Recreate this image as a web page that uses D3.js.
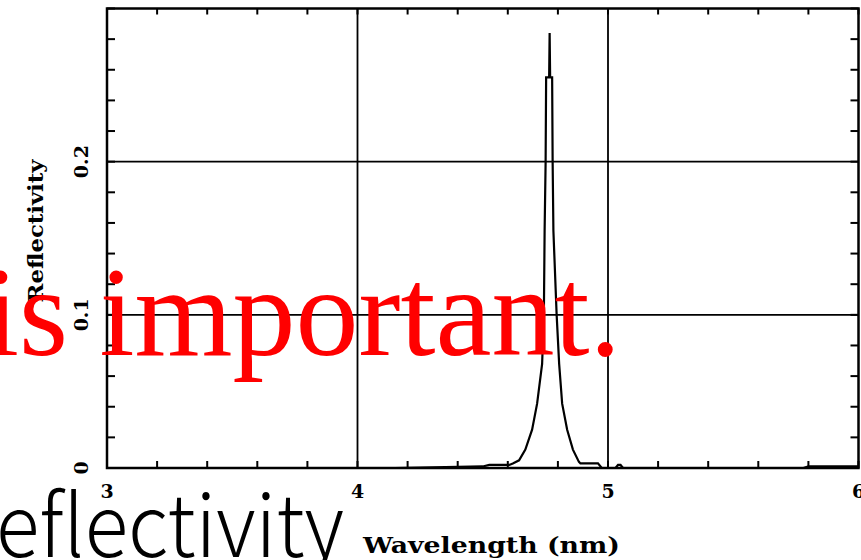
<!DOCTYPE html>
<html>
<head>
<meta charset="utf-8">
<script src="https://cdn.jsdelivr.net/npm/d3@7"></script>
<style>
  body { margin: 0; background: #fff; }
  svg { display: block; }
</style>
</head>
<body>
<div id="chart"></div>
<script>
// data
const wavelength = [3.0, 4.15, 4.5, 4.526, 4.606, 4.62, 4.645, 4.67, 4.697, 4.717, 4.737, 4.744, 4.747, 4.751, 4.753,
  4.765, 4.767, 4.769, 4.777, 4.779, 4.782, 4.795, 4.805, 4.817, 4.837, 4.86, 4.884, 4.89, 4.96, 4.975,
  5.03, 5.04, 5.05, 5.06, 5.78, 5.8, 5.95, 6.0];
const reflectivity = [0, 0, 0.001, 0.002, 0.002, 0.003, 0.005, 0.012, 0.025, 0.042, 0.068, 0.10, 0.155, 0.20, 0.255,
  0.255, 0.284, 0.255, 0.255, 0.20, 0.155, 0.10, 0.068, 0.042, 0.025, 0.012, 0.004, 0.003, 0.003, 0,
  0, 0.002, 0.002, 0, 0, 0.001, 0.001, 0.001];
const xMajor = [3, 4, 5, 6];
const yMajor = [0, 0.1, 0.2];
const yLabels = ["0", "0.1", "0.2"];

const width = 861, height = 560;
const svg = d3.select("#chart").append("svg")
    .attr("width", width)
    .attr("height", height);

const x = d3.scaleLinear().domain([3, 6]).range([107, 858.5]);
const y = d3.scaleLinear().domain([0, 0.3]).range([468, 8.5]);

// minor ticks, pointing inward
const xMinor = d3.range(3, 6.001, 0.2);
const yMinor = d3.range(0, 0.3001, 0.02);

svg.append("g").selectAll("line.xb")
  .data(xMinor).enter().append("line")
    .attr("x1", d => x(d)).attr("x2", d => x(d))
    .attr("y1", y(0)).attr("y2", y(0) - 7)
    .attr("stroke", "#000").attr("stroke-width", 2);
svg.append("g").selectAll("line.xt")
  .data(xMinor).enter().append("line")
    .attr("x1", d => x(d)).attr("x2", d => x(d))
    .attr("y1", y(0.3)).attr("y2", y(0.3) + 6)
    .attr("stroke", "#000").attr("stroke-width", 2);
svg.append("g").selectAll("line.yl")
  .data(yMinor).enter().append("line")
    .attr("x1", x(3)).attr("x2", x(3) + 8)
    .attr("y1", d => y(d)).attr("y2", d => y(d))
    .attr("stroke", "#000").attr("stroke-width", 2);
svg.append("g").selectAll("line.yr")
  .data(yMinor).enter().append("line")
    .attr("x1", x(6)).attr("x2", x(6) - 8)
    .attr("y1", d => y(d)).attr("y2", d => y(d))
    .attr("stroke", "#000").attr("stroke-width", 2);

// grid lines
svg.append("g").selectAll("line.gx")
  .data(xMajor.slice(1, 3)).enter().append("line")
    .attr("x1", d => x(d)).attr("x2", d => x(d))
    .attr("y1", y(0)).attr("y2", y(0.3))
    .attr("stroke", "#000").attr("stroke-width", 1.8);
svg.append("g").selectAll("line.gy")
  .data(yMajor.slice(1)).enter().append("line")
    .attr("x1", x(3)).attr("x2", x(6))
    .attr("y1", d => y(d)).attr("y2", d => y(d))
    .attr("stroke", "#000").attr("stroke-width", 1.6);

// frame
svg.append("rect")
    .attr("x", x(3)).attr("y", y(0.3))
    .attr("width", x(6) - x(3)).attr("height", y(0) - y(0.3))
    .attr("fill", "none").attr("stroke", "#000").attr("stroke-width", 2.5);

// curve
const pts = wavelength.map((w, i) => [w, reflectivity[i]]);
svg.append("path")
    .datum(pts)
    .attr("fill", "none")
    .attr("stroke", "#000")
    .attr("stroke-width", 2.2)
    .attr("stroke-linejoin", "miter")
    .attr("d", d3.line().x(d => x(d[0])).y(d => y(d[1])));

// tick labels
const tickFont = "'DejaVu Serif', serif";
svg.append("g").selectAll("text")
  .data(xMajor).enter().append("text")
    .attr("x", d => x(d)).attr("y", 498)
    .attr("text-anchor", "middle")
    .attr("font-family", tickFont).attr("font-weight", "bold").attr("font-size", 19)
    .text(d => d);
svg.append("g").selectAll("text")
  .data(yMajor).enter().append("text")
    .attr("transform", d => `translate(88,${y(d)}) rotate(-90)`)
    .attr("text-anchor", "middle")
    .attr("font-family", tickFont).attr("font-weight", "bold").attr("font-size", 19)
    .text((d, i) => yLabels[i]);

// axis titles
svg.append("text")
    .attr("transform", "translate(43,231) rotate(-90)")
    .attr("text-anchor", "middle")
    .attr("font-family", tickFont).attr("font-weight", "bold").attr("font-size", 21)
    .attr("textLength", 143).attr("lengthAdjust", "spacingAndGlyphs")
    .text("Reflectivity");
svg.append("text")
    .attr("x", 363).attr("y", 553)
    .attr("font-family", tickFont).attr("font-weight", "bold").attr("font-size", 23)
    .attr("textLength", 257).attr("lengthAdjust", "spacingAndGlyphs")
    .text("Wavelength (nm)");

// overlaid texts
svg.append("text")
    .attr("x", -52).attr("y", 557)
    .attr("font-family", "'Noto Sans CJK JP', 'Noto Sans', sans-serif")
    .attr("font-size", 86)
    .attr("font-weight", 300)
    .attr("fill", "#000")
    .attr("textLength", 396).attr("lengthAdjust", "spacingAndGlyphs")
    .text("Reflectivity");
svg.append("text")
    .attr("x", -16).attr("y", 355)
    .attr("font-family", "'Liberation Serif', 'Times New Roman', serif")
    .attr("font-size", 126)
    .attr("fill", "#ff0000")
    .text("is important.");
</script>
</body>
</html>
